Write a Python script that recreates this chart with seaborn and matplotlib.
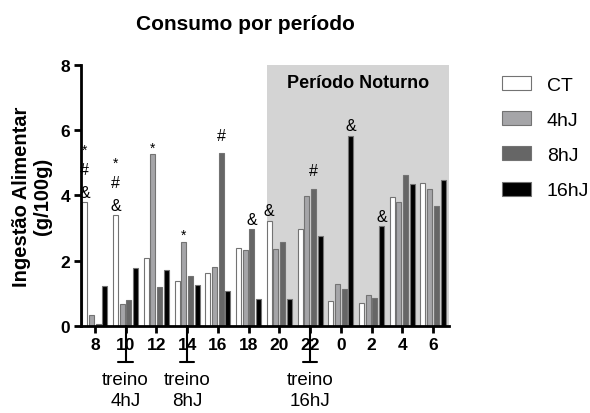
import matplotlib
matplotlib.use("Agg")
import matplotlib.pyplot as plt
import matplotlib.transforms as mtransforms
import seaborn as sns
import pandas as pd

# horas do dia (eixo x) e grupos
horas = ["8", "10", "12", "14", "16", "18", "20", "22", "0", "2", "4", "6"]
grupos = ["CT", "4hJ", "8hJ", "16hJ"]

# ingestao alimentar (g/100g)
ct = [3.80, 3.40, 2.07, 1.38, 1.63, 2.38, 3.22, 2.98, 0.75, 0.69, 3.95, 4.38]
h4 = [0.33, 0.67, 5.27, 2.58, 1.80, 2.32, 2.36, 3.98, 1.28, 0.94, 3.79, 4.20]
h8 = [0.05, 0.78, 1.20, 1.52, 5.30, 2.97, 2.58, 4.20, 1.13, 0.84, 4.62, 3.66]
h16 = [1.22, 1.78, 1.70, 1.26, 1.06, 0.83, 0.82, 2.74, 5.83, 3.05, 4.34, 4.48]

# marcas de significancia: (hora, grupo, simbolos de baixo p/ cima)
marcas = [("8", "CT", "&#*"), ("10", "CT", "&#*"), ("12", "4hJ", "*"),
          ("14", "4hJ", "*"), ("16", "8hJ", "#"), ("18", "8hJ", "&"),
          ("20", "CT", "&"), ("22", "8hJ", "#"), ("0", "16hJ", "&"),
          ("2", "16hJ", "&")]

# horarios de treino
treinos = [("10", "treino\n4hJ"), ("14", "treino\n8hJ"), ("22", "treino\n16hJ")]
inicio_noturno = "20"

cores = {"CT": "white", "4hJ": "#a4a4a8", "8hJ": "#666666", "16hJ": "black"}


def main():
    df = pd.DataFrame({"hora": horas * 4,
                       "grupo": sum([[g] * len(horas) for g in grupos], []),
                       "valor": ct + h4 + h8 + h16})

    sns.set_style("ticks")
    plt.rcParams["font.family"] = ["Liberation Sans", "DejaVu Sans"]
    for k in ["text.color", "axes.labelcolor", "xtick.color", "ytick.color",
              "axes.edgecolor"]:
        plt.rcParams[k] = "black"

    fig = plt.figure(figsize=(5.9, 4.14), dpi=100)
    ax = fig.add_axes([81 / 590, 1 - 326.7 / 414, (449 - 81) / 590, (326.7 - 66) / 414])

    largura = 0.87
    sns.barplot(data=df, x="hora", y="valor", hue="grupo", order=horas,
                hue_order=grupos, palette=cores, width=largura, gap=0.25,
                edgecolor="0.45", linewidth=0.8, ax=ax, legend=True)

    # periodo noturno sombreado
    ax.set_xlim(-0.45, len(horas) - 0.48)
    ax.set_ylim(0, 8)
    ax.axvspan(horas.index(inicio_noturno) - 0.4, len(horas), color="#d4d4d4",
               zorder=0, lw=0)
    ax.text((horas.index(inicio_noturno) - 0.4 + len(horas) - 0.48) / 2, 7.45,
            "Período Noturno", ha="center", va="center", fontsize=13,
            fontweight="bold")

    # simbolos de significancia
    valores = dict(zip(grupos, [ct, h4, h8, h16]))
    passo = largura / len(grupos)
    base = {"&": 0.3, "#": 0.55, "*": 0.3}
    for hora, grupo, simbolos in marcas:
        i = horas.index(hora)
        x = i + (grupos.index(grupo) - 1.5) * passo
        y = valores[grupo][i] + base[simbolos[0]]
        for k, s in enumerate(simbolos):
            yy = y + 0.7 * k if s != "*" else y + 0.7 * k - 0.1
            ax.text(x, yy, s, ha="center", va="center",
                    fontsize=10 if s == "*" else 11.5)

    # marcadores de treino abaixo do eixo
    trans = mtransforms.blended_transform_factory(ax.transData, ax.transAxes)
    for hora, rotulo in treinos:
        i = horas.index(hora)
        ax.plot([i, i], [0, -0.14], color="black", lw=1.5, transform=trans,
                clip_on=False)
        ax.plot([i - 0.24, i + 0.24], [-0.14, -0.14], color="black", lw=1.5,
                transform=trans, clip_on=False)
        ax.text(i, -0.245, rotulo, transform=trans, ha="center", va="center",
                fontsize=13.5, linespacing=1.3)

    ax.set_yticks([0, 2, 4, 6, 8])
    ax.tick_params(axis="both", width=2, length=5, labelsize=12.5, pad=3)
    for lbl in ax.get_xticklabels() + ax.get_yticklabels():
        lbl.set_fontweight("bold")
    for sp in ["left", "bottom"]:
        ax.spines[sp].set_linewidth(2)
    sns.despine(ax=ax)

    ax.set_xlabel("")
    ax.set_ylabel("Ingestão Alimentar\n(g/100g)", fontsize=14.5,
                  fontweight="bold", labelpad=6, linespacing=1.15)
    fig.text(245 / 590, 1 - 24 / 414, "Consumo por período", ha="center",
             va="center", fontsize=15, fontweight="bold")

    ax.legend(loc="upper left", bbox_to_anchor=(502 / 590, 1 - 77 / 414),
              bbox_transform=fig.transFigure, frameon=False, fontsize=14,
              handlelength=1.5, handleheight=0.72, labelspacing=0.9,
              handletextpad=0.8, borderpad=0, borderaxespad=0)

    fig.savefig("out.png", dpi=100)


if __name__ == "__main__":
    main()
